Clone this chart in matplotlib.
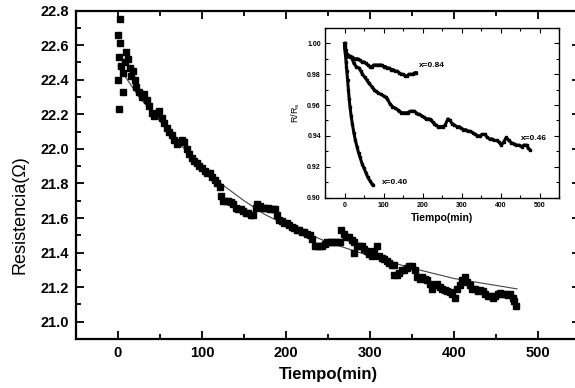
import numpy as np
import matplotlib
matplotlib.use("Agg")
import matplotlib.pyplot as plt
from matplotlib.ticker import MultipleLocator, FormatStrFormatter

plt.rcParams['font.family'] = ['Liberation Sans', 'DejaVu Sans']

# ---- main series: resistance vs time ----
t_main = [2.4, 0.0, 2.4, 1.2, 0.4, 6.0, 1.2,
          4, 6, 8, 10, 12, 14, 16, 18, 20, 22, 25, 28, 31, 34, 37, 40, 43, 46, 49,
          52, 55, 58, 61, 64, 67, 70, 73, 76, 79, 82, 85, 88, 91, 94, 97, 100,
          103, 106, 109, 112, 115, 118, 121, 123, 125, 128, 131, 134, 137, 140,
          143, 146, 149, 152, 155, 158, 161, 164, 166, 169, 172, 175, 178, 181,
          184, 187, 189, 192, 195, 198, 201, 204, 207, 210, 213, 216, 219, 222,
          225, 228, 231, 234, 237, 240, 243, 246, 249, 252, 255, 258, 261, 264,
          266, 269, 272, 275, 278, 281, 281, 284, 287, 290, 293, 296, 299, 302,
          305, 308, 311, 314, 317, 320, 323, 326, 329, 329, 332, 335, 338, 341,
          344, 347, 350, 353, 356, 359, 362, 365, 368, 371, 374, 377, 380, 383,
          386, 389, 392, 395, 398, 401, 404, 407, 410, 413, 416, 419, 422, 425,
          428, 431, 434, 437, 440, 443, 446, 449, 452, 455, 458, 461, 464, 467,
          470, 472, 474]
r_main = [22.75, 22.66, 22.61, 22.53, 22.40, 22.33, 22.23,
          22.48, 22.44, 22.50, 22.56, 22.52, 22.47, 22.42, 22.45, 22.40, 22.36,
          22.33, 22.30, 22.32, 22.28, 22.25, 22.21, 22.19, 22.20, 22.22, 22.18,
          22.15, 22.12, 22.10, 22.08, 22.05, 22.03, 22.04, 22.05, 22.04, 22.00,
          21.97, 21.95, 21.93, 21.92, 21.90, 21.89, 21.87, 21.86, 21.86, 21.84,
          21.82, 21.80, 21.78, 21.73, 21.70, 21.70, 21.70, 21.69, 21.68, 21.66,
          21.65, 21.65, 21.64, 21.63, 21.63, 21.62, 21.62, 21.66, 21.68, 21.67,
          21.66, 21.66, 21.66, 21.65, 21.65, 21.65, 21.62, 21.59, 21.58, 21.57,
          21.57, 21.56, 21.55, 21.54, 21.53, 21.53, 21.52, 21.52, 21.51, 21.50,
          21.48, 21.44, 21.44, 21.44, 21.44, 21.45, 21.46, 21.46, 21.46, 21.46,
          21.46, 21.46, 21.53, 21.51, 21.49, 21.49, 21.47, 21.46, 21.40, 21.44,
          21.44, 21.44, 21.42, 21.41, 21.39, 21.38, 21.41, 21.44, 21.38, 21.37,
          21.36, 21.35, 21.34, 21.33, 21.33, 21.27, 21.27, 21.28, 21.30, 21.30,
          21.31, 21.32, 21.32, 21.30, 21.26, 21.25, 21.26, 21.25, 21.24, 21.22,
          21.19, 21.21, 21.22, 21.20, 21.19, 21.185, 21.18, 21.17, 21.16, 21.14,
          21.19, 21.21, 21.24, 21.26, 21.23, 21.21, 21.19, 21.19, 21.18, 21.185,
          21.18, 21.16, 21.15, 21.15, 21.14, 21.15, 21.16, 21.165, 21.16, 21.16,
          21.155, 21.16, 21.14, 21.12, 21.09]

# fitted decay curve
t_fit = [0, 25, 50, 75, 100, 125, 150, 175, 200, 250, 300, 350, 400, 475]
r_fit = [22.48, 22.30, 22.16, 22.02, 21.90, 21.79, 21.70, 21.62, 21.56,
         21.46, 21.38, 21.31, 21.25, 21.19]

# ---- inset: normalized resistance R/Rs for three compositions ----
t_040 = [0, 1, 2, 3, 4, 5, 6, 8, 10, 12, 14, 17, 20, 24, 28, 32, 36, 40, 45,
         50, 55, 60, 65, 70, 73]
v_040 = [1.000, 0.997, 0.994, 0.991, 0.988, 0.985, 0.982, 0.976, 0.970, 0.964,
         0.959, 0.953, 0.948, 0.942, 0.937, 0.933, 0.929, 0.926, 0.922, 0.919,
         0.916, 0.913, 0.911, 0.909, 0.908]

t_084 = [0, 3, 6, 10, 15, 20, 25, 30, 35, 40, 45, 50, 55, 60, 65, 70, 75, 80,
         85, 90, 95, 100, 105, 110, 115, 120, 125, 130, 135, 140, 145, 150,
         155, 160, 165, 170, 175, 180, 184]
v_084 = [1.000, 0.996, 0.993, 0.992, 0.991, 0.991, 0.990, 0.990, 0.990, 0.989,
         0.988, 0.988, 0.987, 0.986, 0.985, 0.985, 0.986, 0.986, 0.986, 0.986,
         0.986, 0.985, 0.985, 0.984, 0.984, 0.983, 0.983, 0.982, 0.982, 0.981,
         0.980, 0.980, 0.979, 0.979, 0.980, 0.980, 0.980, 0.981, 0.981]

t_046 = [0, 3, 8, 13, 18, 24, 30, 37, 42, 46, 52, 58, 63, 70, 76, 80, 86, 93,
         100, 106, 110, 116, 123, 130, 136, 140, 146, 152, 158, 162, 168, 174,
         179, 184, 188, 192, 198, 204, 209, 214, 218, 222, 226, 230, 235, 240,
         245, 252, 258, 265, 270, 276, 282, 288, 294, 299, 305, 311, 316, 322,
         329, 335, 341, 347, 353, 360, 366, 372, 378, 384, 390, 396, 402, 408,
         415, 421, 428, 434, 441, 447, 454, 460, 467, 471, 475]
v_046 = [0.998, 0.993, 0.992, 0.992, 0.991, 0.987, 0.985, 0.984, 0.982, 0.980,
         0.978, 0.976, 0.974, 0.972, 0.970, 0.969, 0.968, 0.967, 0.966, 0.965,
         0.964, 0.961, 0.959, 0.958, 0.957, 0.956, 0.955, 0.955, 0.955, 0.955,
         0.956, 0.956, 0.956, 0.955, 0.954, 0.954, 0.953, 0.952, 0.951, 0.951,
         0.951, 0.950, 0.949, 0.948, 0.947, 0.946, 0.946, 0.946, 0.947, 0.951,
         0.950, 0.948, 0.947, 0.946, 0.946, 0.945, 0.944, 0.944, 0.943, 0.943,
         0.942, 0.941, 0.940, 0.940, 0.941, 0.941, 0.939, 0.938, 0.938, 0.937,
         0.937, 0.936, 0.934, 0.936, 0.939, 0.937, 0.9355, 0.935, 0.934, 0.934,
         0.933, 0.934, 0.934, 0.932, 0.931]

inset_labels = ["x=0.84", "x=0.46", "x=0.40"]
inset_label_pos = [(190, 0.9855), (452, 0.9385), (95, 0.9095)]

W, H = 575, 388
fig = plt.figure(figsize=(W / 100, H / 100), dpi=100)

# main axes (right edge runs slightly past the canvas)
ax = fig.add_axes([76 / W, 1 - 339 / H, (580 - 76) / W, (339 - 10.6) / H])
ax.plot(t_fit, r_fit, color='#444444', lw=0.8, zorder=2)
ax.plot(t_main, r_main, ls='none', marker='s', ms=4.8, color='black',
        mec='black', zorder=3)
ax.set_xlim(-50, 550)
ax.set_ylim(20.9, 22.8)
ax.xaxis.set_major_locator(MultipleLocator(100))
ax.xaxis.set_minor_locator(MultipleLocator(50))
ax.set_yticks(np.round(np.arange(21.0, 22.81, 0.2), 1))
ax.yaxis.set_minor_locator(MultipleLocator(0.1))
ax.yaxis.set_major_formatter(FormatStrFormatter('%.1f'))
ax.tick_params(which='both', direction='in', top=True, right=True, width=1.3)
ax.tick_params(which='major', length=6, labelsize=10.5, pad=5)
ax.tick_params(which='minor', length=3.5)
for lab in ax.get_xticklabels() + ax.get_yticklabels():
    lab.set_fontweight('bold')
for sp in ax.spines.values():
    sp.set_linewidth(1.6)

fig.text(328 / W, 1 - 375 / H, "Tiempo(min)", ha='center', va='center',
         fontsize=12, fontweight='bold')
fig.text(20 / W, 1 - 215 / H, "Resistencia(\u03a9)", ha='center', va='center',
         rotation=90, fontsize=13)

# inset axes
axi = fig.add_axes([325 / W, 1 - 197.5 / H, (559 - 325) / W, (197.5 - 28) / H])
for tt, vv in [(t_040, v_040), (t_084, v_084), (t_046, v_046)]:
    axi.plot(tt, vv, color='black', lw=2.2, marker='s', ms=2.0, zorder=3)
axi.set_xlim(-50, 550)
axi.set_ylim(0.90, 1.01)
axi.xaxis.set_major_locator(MultipleLocator(100))
axi.xaxis.set_minor_locator(MultipleLocator(50))
axi.set_yticks([0.90, 0.92, 0.94, 0.96, 0.98, 1.00])
axi.yaxis.set_minor_locator(MultipleLocator(0.01))
axi.yaxis.set_major_formatter(FormatStrFormatter('%.2f'))
axi.tick_params(which='both', direction='in', top=True, right=True, width=0.8)
axi.tick_params(which='major', length=3.5, labelsize=5, pad=3)
axi.tick_params(which='minor', length=2)
for lab in axi.get_xticklabels() + axi.get_yticklabels():
    lab.set_fontweight('bold')
for sp in axi.spines.values():
    sp.set_linewidth(1.0)
axi.set_xlabel("Tiempo(min)", fontsize=7.5, fontweight='bold', labelpad=3)
axi.set_ylabel("R/R$_\\mathregular{s}$", fontsize=6.5, labelpad=4)
for txt, (tx, ty) in zip(inset_labels, inset_label_pos):
    axi.text(tx, ty, txt, fontsize=6, fontweight='bold', ha='left',
             va='center')

fig.savefig("out.png", dpi=100)
